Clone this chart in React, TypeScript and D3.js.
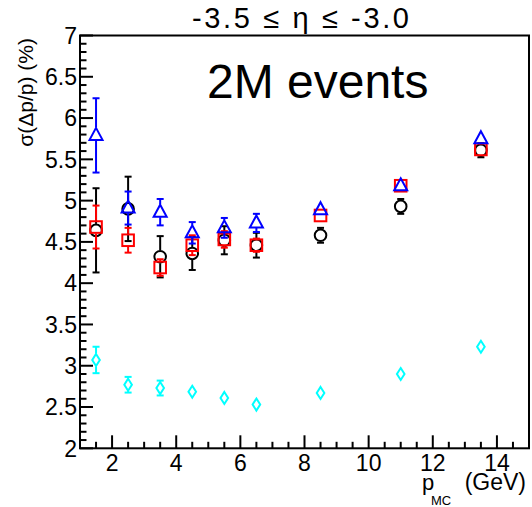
import React from "react";
import * as d3 from "d3";

const W = 532;
const H = 507;

const xValues = [1.5, 2.5, 3.5, 4.5, 5.5, 6.5, 8.5, 11, 13.5];

const blackY = [4.64, 4.9, 4.32, 4.36, 4.52, 4.46, 4.58, 4.93, 5.61];
const blackErr = [0.51, 0.39, 0.25, 0.2, 0.17, 0.15, 0.09, 0.09, 0.085];

const redY = [4.68, 4.52, 4.19, 4.46, 4.53, 4.46, 4.82, 5.18, 5.62];
const redErr = [0.26, 0.15, 0.1, 0.12, 0.1, 0.08, 0.05, 0.05, 0.05];

const blueY = [5.79, 4.91, 4.86, 4.61, 4.67, 4.73, 4.89, 5.18, 5.75];
const blueErr = [0.45, 0.2, 0.16, 0.13, 0.12, 0.11, 0.05, 0.05, 0.05];

const cyanY = [3.07, 2.77, 2.73, 2.685, 2.61, 2.53, 2.67, 2.9, 3.23];
const cyanErr = [0.16, 0.095, 0.09, 0.07, 0.04, 0.03, 0.03, 0.03, 0.03];

const yTicks = [2, 2.5, 3, 3.5, 4, 4.5, 5, 5.5, 6, 6.5, 7];
const xTicks = [2, 4, 6, 8, 10, 12, 14];

const titleText = "-3.5 \u2264 \u03b7 \u2264 -3.0";
const eventsText = "2M events";

const FONT = "'Liberation Sans', Arial, Helvetica, sans-serif";

type MarkerKind = "circle" | "square" | "triangle" | "diamond";

const series: { ys: number[]; errs: number[]; color: string; kind: MarkerKind }[] = [
  { ys: blackY, errs: blackErr, color: "#000000", kind: "circle" },
  { ys: redY, errs: redErr, color: "#ff0000", kind: "square" },
  { ys: blueY, errs: blueErr, color: "#0000ff", kind: "triangle" },
  { ys: cyanY, errs: cyanErr, color: "#00ffff", kind: "diamond" },
];

const markerHalf: Record<MarkerKind, [number, number]> = {
  circle: [6.5, 6.5],
  square: [6.5, 6.5],
  triangle: [8, 5],
  diamond: [6.5, 6.5],
};

function Marker({ kind, cx, cy, color }: { kind: MarkerKind; cx: number; cy: number; color: string }) {
  const sw = 2;
  if (kind === "circle") return <circle cx={cx} cy={cy} r={5.8} fill="none" stroke={color} strokeWidth={sw} />;
  if (kind === "square")
    return <rect x={cx - 5.8} y={cy - 5.8} width={11.6} height={11.6} fill="none" stroke={color} strokeWidth={sw} />;
  if (kind === "triangle")
    return (
      <polygon
        points={`${cx},${cy - 7.5} ${cx + 6.5},${cy + 4.5} ${cx - 6.5},${cy + 4.5}`}
        fill="none"
        stroke={color}
        strokeWidth={sw}
      />
    );
  return (
    <polygon
      points={`${cx},${cy - 6} ${cx + 3.8},${cy} ${cx},${cy + 6} ${cx - 3.8},${cy}`}
      fill="none"
      stroke={color}
      strokeWidth={sw}
    />
  );
}

export default function App() {
  const left = 80;
  const right = 529;
  const top = 35.5;
  const bottom = 448.3;

  const x = d3.scaleLinear().domain([1, 15]).range([left, right]);
  const y = d3.scaleLinear().domain([2, 7]).range([bottom, top]);

  const yMinor = d3.range(20, 71).map((v) => v / 10);
  const xMinor = d3.range(2, 31).map((v) => v / 2);

  return (
    <svg
      width={W}
      height={H}
      style={{ position: "absolute", left: 0, top: 0, background: "#fff" }}
      fontFamily={FONT}
    >
      <rect x={0} y={0} width={W} height={H} fill="#fff" />
      {/* frame */}
      <rect x={left} y={top} width={right - left} height={bottom - top} fill="none" stroke="#000" strokeWidth={2} />

      {/* y ticks */}
      {yMinor.map((v) => {
        const major = Math.abs(v * 2 - Math.round(v * 2)) < 1e-6;
        return (
          <line key={"ym" + v} x1={left} x2={left + (major ? 13 : 6.5)} y1={y(v)} y2={y(v)} stroke="#000" strokeWidth={2} />
        );
      })}
      {/* x ticks */}
      {xMinor.map((v) => {
        const major = Math.abs(v / 2 - Math.round(v / 2)) < 1e-6;
        return (
          <line key={"xm" + v} x1={x(v)} x2={x(v)} y1={bottom} y2={bottom - (major ? 13 : 6.5)} stroke="#000" strokeWidth={2} />
        );
      })}

      {yTicks.map((v) => (
        <text key={"yl" + v} x={left - 3} y={y(v)} dy="0.36em" textAnchor="end" fontSize={23}>
          {String(v)}
        </text>
      ))}
      {xTicks.map((v) => (
        <text key={"xl" + v} x={x(v)} y={471} textAnchor="middle" fontSize={23}>
          {String(v)}
        </text>
      ))}

      {/* axis titles */}
      <text transform="translate(33,38) rotate(-90)" textAnchor="end" fontSize={21}>
        {"\u03c3(\u0394p/p) (%)"}
      </text>
      <text x={422} y={490} fontSize={22}>
        p
      </text>
      <text x={431} y={505} fontSize={13}>
        MC
      </text>
      <text x={526} y={490} textAnchor="end" fontSize={23}>
        (GeV)
      </text>

      {/* title */}
      <text x={192} y={28} fontSize={29} textLength={217} lengthAdjust="spacing">
        {titleText}
      </text>
      <text x={207} y={98} fontSize={48}>
        {eventsText}
      </text>

      {/* data */}
      {series.map((s, si) => (
        <g key={"s" + si}>
          {xValues.map((xv, i) => {
            const cx = x(xv);
            const cy = y(s.ys[i]);
            const yt = y(s.ys[i] + s.errs[i]);
            const yb = y(s.ys[i] - s.errs[i]);
            const [ht, hb] = markerHalf[s.kind];
            return (
              <g key={i}>
                {cy - yt > ht && (
                  <>
                    <line x1={cx} x2={cx} y1={yt} y2={cy - ht} stroke={s.color} strokeWidth={2} />
                    <line x1={cx - 3.5} x2={cx + 3.5} y1={yt} y2={yt} stroke={s.color} strokeWidth={2} />
                  </>
                )}
                {yb - cy > hb && (
                  <>
                    <line x1={cx} x2={cx} y1={cy + hb} y2={yb} stroke={s.color} strokeWidth={2} />
                    <line x1={cx - 3.5} x2={cx + 3.5} y1={yb} y2={yb} stroke={s.color} strokeWidth={2} />
                  </>
                )}
                <Marker kind={s.kind} cx={cx} cy={cy} color={s.color} />
              </g>
            );
          })}
        </g>
      ))}
    </svg>
  );
}
